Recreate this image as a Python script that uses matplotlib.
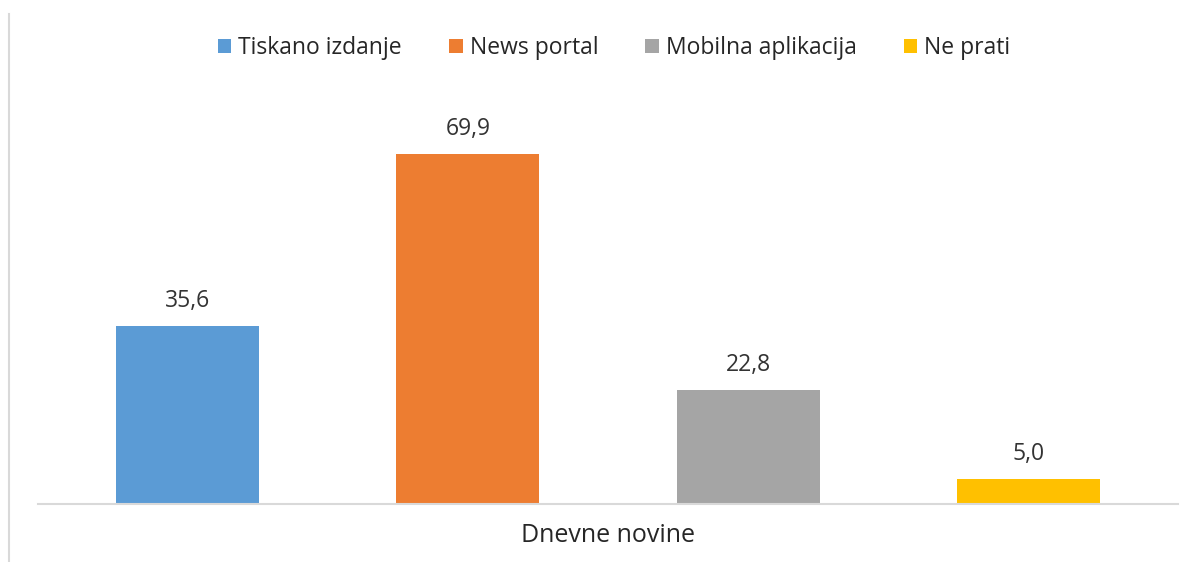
import matplotlib.pyplot as plt
from matplotlib.lines import Line2D
from matplotlib.patches import Patch

categories = ["Tiskano izdanje", "News portal", "Mobilna aplikacija", "Ne prati"]
values = [35.6, 69.9, 22.8, 5.0]
colors = ["#5B9BD5", "#ED7D31", "#A5A5A5", "#FFC000"]
group_label = "Dnevne novine"

plt.rcParams['font.family'] = ['Open Sans', 'DejaVu Sans']

fig = plt.figure(figsize=(11.95, 5.62), dpi=100)
ax = fig.add_axes([0.0318, 0.1032, 0.954, 0.712])

xs = list(range(len(values)))
bars = ax.bar(xs, values, width=0.51, color=colors)
for x, v in zip(xs, values):
    ax.text(x, v + 2.6, f"{v:.1f}".replace(".", ","), ha="center", va="bottom",
            fontsize=16.5, color="#333333")

ax.set_xlim(-0.533, 3.533)
ax.set_ylim(0, 80)
for s in ["top", "right", "left"]:
    ax.spines[s].set_visible(False)
ax.spines["bottom"].set_color("#D9D9D9")
ax.spines["bottom"].set_linewidth(1.5)
ax.set_yticks([])
ax.set_xticks([])
fig.text(608 / 1195, 1 - 536 / 562, group_label, ha="center", va="center",
         fontsize=18, color="#262626")

handles = [Patch(facecolor=c, edgecolor="none") for c in colors]
fig.legend(handles, categories, loc="center", bbox_to_anchor=(614 / 1195, 1 - 48 / 562),
           ncol=4, frameon=False, fontsize=16.5, handlelength=0.6, handleheight=0.6,
           handletextpad=0.3, columnspacing=2.05, labelcolor="#262626")

# left border of the chart frame
fig.add_artist(Line2D([9 / 1195, 9 / 1195], [0, 1 - 14 / 562], color="#D9D9D9", linewidth=1.5))

fig.savefig("out.png", dpi=100, facecolor="white")
